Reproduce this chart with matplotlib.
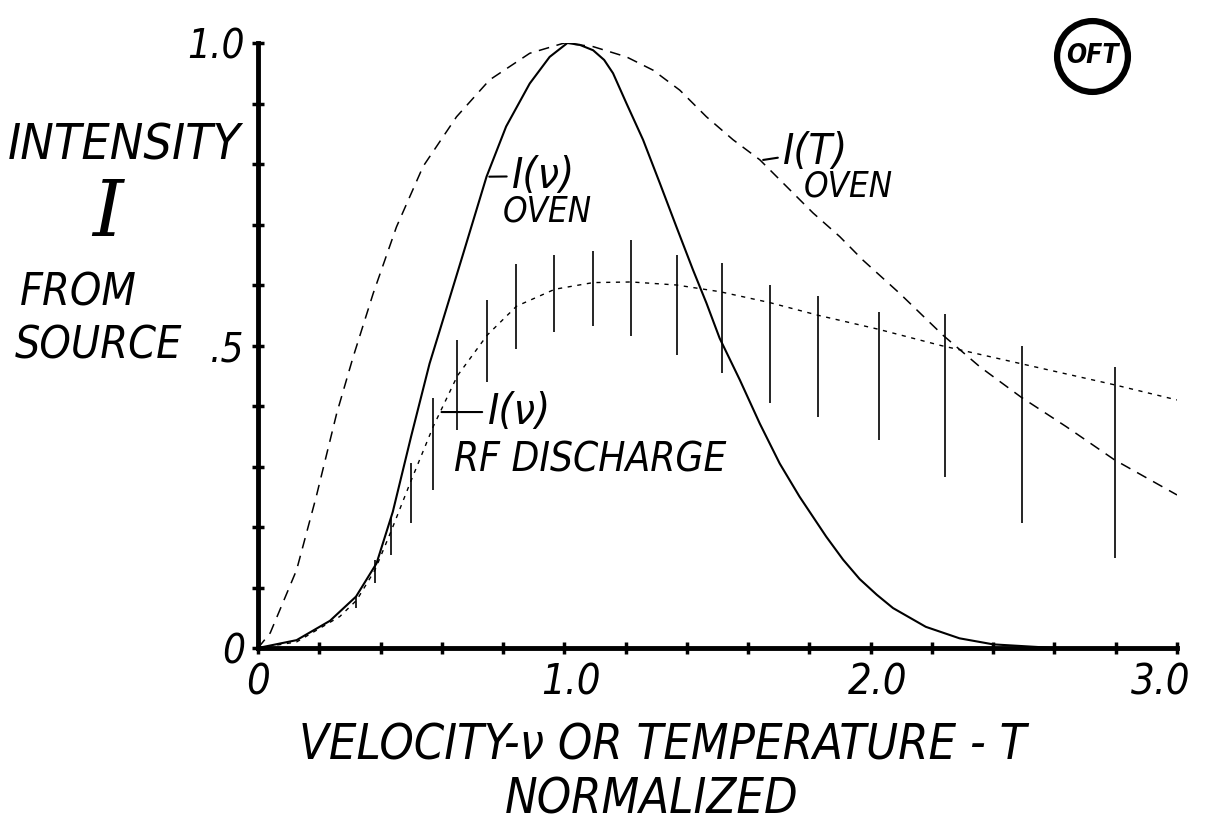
import matplotlib
matplotlib.use('Agg')
import matplotlib.pyplot as plt
import matplotlib.transforms as mtrans
from matplotlib import font_manager

# values (x = normalized velocity / temperature)
oven_v_x = [0, 0.126, 0.235, 0.32, 0.387, 0.44, 0.5, 0.56, 0.594, 0.67, 0.746, 0.81,
            0.887, 0.952, 1.01, 1.05, 1.094, 1.13, 1.159, 1.203, 1.257, 1.312, 1.366, 1.42,
            1.464, 1.507, 1.573, 1.638, 1.703, 1.768, 1.855, 1.91, 1.964, 2.02, 2.073,
            2.18, 2.29, 2.40, 2.6]
oven_v_y = [0, 0.013, 0.045, 0.085, 0.14, 0.225, 0.35, 0.47, 0.526, 0.652, 0.779, 0.862,
            0.933, 0.977, 1.0, 0.997, 0.988, 0.972, 0.95, 0.90, 0.84, 0.768, 0.696, 0.625,
            0.57, 0.512, 0.443, 0.371, 0.305, 0.25, 0.184, 0.146, 0.114, 0.088, 0.066,
            0.035, 0.016, 0.006, 0.0]

oven_t_x = [0, 0.04, 0.126, 0.19, 0.257, 0.31, 0.376, 0.452, 0.539, 0.648, 0.756, 0.887,
            1.0, 1.094, 1.203, 1.29, 1.377, 1.464, 1.551, 1.638, 1.725, 1.812, 1.899,
            1.975, 2.095, 2.236, 2.356, 2.49, 2.638, 2.796, 3.0]
oven_t_y = [0, 0.025, 0.129, 0.25, 0.388, 0.48, 0.586, 0.696, 0.796, 0.878, 0.939, 0.983,
            1.0, 0.994, 0.977, 0.955, 0.922, 0.878, 0.84, 0.807, 0.763, 0.719, 0.68,
            0.641, 0.586, 0.517, 0.465, 0.415, 0.366, 0.311, 0.253]

rf_x = [0, 0.126, 0.267, 0.322, 0.382, 0.436, 0.496, 0.572, 0.651, 0.748, 0.844, 0.969,
        1.094, 1.219, 1.366, 1.507, 1.67, 1.828, 2.024, 2.229, 2.49, 2.796, 3.0]
rf_y = [0, 0.010, 0.052, 0.079, 0.129, 0.195, 0.272, 0.366, 0.45, 0.517, 0.565, 0.593,
        0.604, 0.605, 0.60, 0.589, 0.571, 0.55, 0.527, 0.50, 0.47, 0.435, 0.41]

bar_x = [0.32, 0.382, 0.434, 0.50, 0.572, 0.651, 0.748, 0.841, 0.967, 1.092, 1.217,
         1.369, 1.515, 1.67, 1.828, 2.026, 2.244, 2.494, 2.796]
bar_lo = [0.066, 0.107, 0.154, 0.207, 0.261, 0.36, 0.44, 0.495, 0.522, 0.532, 0.516,
          0.485, 0.454, 0.405, 0.381, 0.344, 0.282, 0.206, 0.148]
bar_hi = [0.085, 0.146, 0.215, 0.306, 0.413, 0.509, 0.576, 0.635, 0.65, 0.656, 0.674,
          0.65, 0.636, 0.60, 0.581, 0.556, 0.552, 0.50, 0.464]

x_ticks = [0, 0.2, 0.4, 0.6, 0.8, 1.0, 1.2, 1.4, 1.6, 1.8, 2.0, 2.2, 2.4, 2.6, 2.8, 3.0]
x_labels = ['0', '', '', '', '', '1.0', '', '', '', '', '2.0', '', '', '', '', '3.0']
y_ticks = [0, 0.1, 0.2, 0.3, 0.4, 0.5, 0.6, 0.7, 0.8, 0.9, 1.0]
y_labels = ['0', '', '', '', '', '.5', '', '', '', '', '1.0']

W, H = 1208, 824


def pick_condensed():
    # look for any narrow face; fall back to normal width
    for f in font_manager.fontManager.ttflist:
        fn = f.fname.lower()
        if ('condensed' in fn or 'narrow' in fn) and 'bold' not in fn and 'mono' not in fn:
            return f.name, f.stretch
    return 'Open Sans', 'normal'


hand, stretch = pick_condensed()
hand_kw = dict(family=[hand, 'DejaVu Sans'], style='italic', stretch=stretch)


def ftext(px, py, s, size, **kw):
    opts = dict(hand_kw)
    opts.update(kw)
    fig.text(px / W, 1 - py / H, s, fontsize=size, **opts)


fig = plt.figure(figsize=(W / 100, H / 100), dpi=100)
ax = fig.add_axes([258 / W, 1 - 648 / H, (1177 - 258) / W, (648 - 43) / H])

ax.plot(oven_v_x, oven_v_y, color='black', lw=1.5, solid_capstyle='round')
ax.plot(oven_t_x, oven_t_y, color='black', lw=1.1, dashes=(7, 5))
ax.plot(rf_x, rf_y, color='black', lw=1.0, dashes=(3, 4))
ax.vlines(bar_x, bar_lo, bar_hi, color='black', lw=1.2)

ax.set_xlim(0, 3.0)
ax.set_ylim(0, 1.0)
for side in ['top', 'right']:
    ax.spines[side].set_visible(False)
for side in ['left', 'bottom']:
    ax.spines[side].set_linewidth(3.5)
ax.set_xticks(x_ticks)
ax.set_xticklabels(x_labels)
ax.set_yticks(y_ticks)
ax.set_yticklabels(y_labels)
ax.tick_params(direction='inout', length=9, width=2.5, pad=5)
for lab in ax.get_xticklabels():
    lab.set_fontsize(30)
    lab.set_family(hand_kw['family'])
    lab.set_style('italic')
    lab.set_stretch(stretch)
# the hand lettering sits a little off the ticks
shifts = {'1.0': 7, '2.0': 7, '3.0': -16}
for lab in ax.get_xticklabels():
    dx = shifts.get(lab.get_text(), 0)
    if dx:
        lab.set_transform(lab.get_transform() + mtrans.ScaledTranslation(dx / 100, 0, fig.dpi_scale_trans))
for lab in ax.get_yticklabels():
    lab.set_fontsize(29)
    lab.set_family(hand_kw['family'])
    lab.set_style('italic')
    lab.set_stretch(stretch)

# curve labels
ax.annotate('I(ν)', xy=(0.746, 0.779), xytext=(0.83, 0.78), fontsize=31,
            va='center', ha='left', arrowprops=dict(arrowstyle='-', lw=1.5), **hand_kw)
ax.text(0.80, 0.722, 'OVEN', fontsize=25, va='center', ha='left', **hand_kw)
ax.annotate('I(T)', xy=(1.64, 0.806), xytext=(1.715, 0.82), fontsize=31,
            va='center', ha='left', arrowprops=dict(arrowstyle='-', lw=1.5), **hand_kw)
ax.text(1.78, 0.762, 'OVEN', fontsize=25, va='center', ha='left', **hand_kw)
ax.annotate('I(ν)', xy=(0.59, 0.39), xytext=(0.75, 0.39), fontsize=31,
            va='center', ha='left', arrowprops=dict(arrowstyle='-', lw=1.5), **hand_kw)
ax.text(0.64, 0.31, 'RF DISCHARGE', fontsize=29, va='center', ha='left', **hand_kw)

# left side labels
ftext(124, 145, 'INTENSITY', 36, ha='center', va='center')
fig.text(108 / W, 1 - 214 / H, 'I', fontsize=56, ha='center', va='center',
         family='DejaVu Serif', style='italic')
ftext(20, 293, 'FROM', 32, ha='left', va='center')
ftext(15, 346, 'SOURCE', 32, ha='left', va='center')

# axis title
ftext(663, 746, 'VELOCITY-ν OR TEMPERATURE - T', 35, ha='center', va='center')
ftext(652, 799, 'NORMALIZED', 35, ha='center', va='center')

# logo
fig.lines.append(plt.Line2D([1092 / W], [1 - 56 / H], marker='o', ms=51, mfc='none',
                            mec='black', mew=4.5, transform=fig.transFigure))
fig.text(1092 / W, 1 - 56 / H, 'OFT', fontsize=19, ha='center', va='center',
         weight='bold', style='italic', stretch='condensed')

fig.savefig('out.png', dpi=100)
